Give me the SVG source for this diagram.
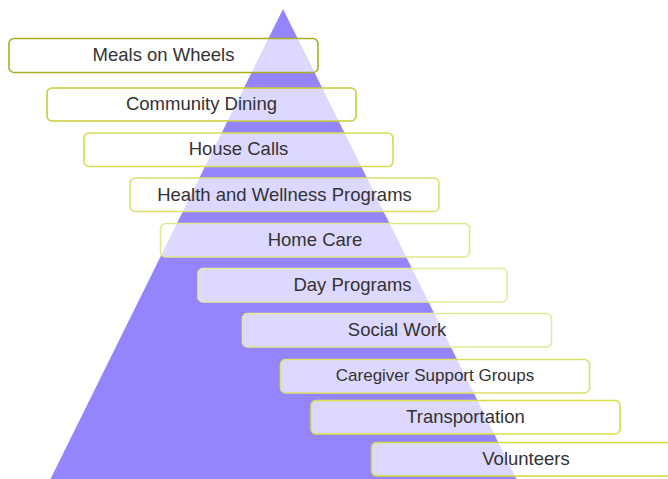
<svg xmlns="http://www.w3.org/2000/svg" width="668" height="479" viewBox="0 0 668 479">
<style>
.box{fill:#ffffff;fill-opacity:0.68;stroke-width:1.6}
.lbl{font-family:"Liberation Sans",Arial,sans-serif;font-size:18.5px;fill:#333333;text-anchor:middle;dominant-baseline:central}
</style>
<rect width="668" height="479" fill="#ffffff"/>
<polygon id="pyramid" points="283,9 50,480 517,480" fill="#9585fd"/>
<g id="n1"><rect class="box" x="9" y="38.5" width="309" height="34" rx="5" stroke="#a9b024"/><text class="lbl" x="163.5" y="54.5">Meals on Wheels</text></g>
<g id="n2"><rect class="box" x="47" y="88" width="309" height="33" rx="5" stroke="#c8cc36"/><text class="lbl" x="201.5" y="103">Community Dining</text></g>
<g id="n3"><rect class="box" x="84" y="133" width="309" height="33.5" rx="5" stroke="#d6dc52"/><text class="lbl" x="238.5" y="148.5">House Calls</text></g>
<g id="n4"><rect class="box" x="130" y="178" width="309" height="33.5" rx="5" stroke="#dde070"/><text class="lbl" x="284.5" y="194">Health and Wellness Programs</text></g>
<g id="n5"><rect class="box" x="160.5" y="223.5" width="309" height="33.5" rx="5" stroke="#e2e68c"/><text class="lbl" x="315" y="239">Home Care</text></g>
<g id="n6"><rect class="box" x="198" y="268.5" width="309" height="33.5" rx="5" stroke="#e6e99e"/><text class="lbl" x="352.5" y="284">Day Programs</text></g>
<g id="n7"><rect class="box" x="242.5" y="313.5" width="309" height="33.5" rx="5" stroke="#e3e796"/><text class="lbl" x="397" y="329">Social Work</text></g>
<g id="n8"><rect class="box" x="280.5" y="359.5" width="309" height="33.5" rx="5" stroke="#dde068"/><text class="lbl" x="435" y="375.5" style="font-size:17px">Caregiver Support Groups</text></g>
<g id="n9"><rect class="box" x="311" y="400.5" width="309" height="33.5" rx="5" stroke="#d8df48"/><text class="lbl" x="465.5" y="416.5">Transportation</text></g>
<g id="n10"><rect class="box" x="371.5" y="442.5" width="309" height="33.5" rx="5" stroke="#d4dc40"/><text class="lbl" x="526" y="458.5">Volunteers</text></g>
<g id="connectors"></g>
</svg>
